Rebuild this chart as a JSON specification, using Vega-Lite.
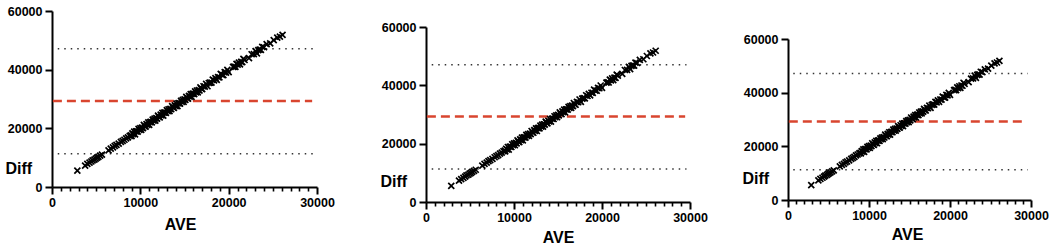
{
  "$schema": "https://vega.github.io/schema/vega-lite/v6.json",
  "autosize": {"type": "pad"},
  "padding": {"left": 5, "top": 5, "right": 0, "bottom": 0},
  "background": "white",
  "config": {
    "view": {"stroke": null},
    "axis": {
      "domainColor": "#000", "domainWidth": 2, "tickColor": "#000", "tickWidth": 2,
      "labelFont": "Liberation Sans", "labelFontWeight": "bold", "labelFontSize": 12.5, "labelColor": "#000",
      "titleFont": "Liberation Sans", "titleFontWeight": "bold", "titleFontSize": 16, "titleColor": "#000",
      "grid": false, "labelFlush": false, "labelOverlap": false
    }
  },
  "datasets": {
    "loa": [{"AVE": 650, "AVE2": 29600, "Diff": 47100}, {"AVE": 650, "AVE2": 29600, "Diff": 11300}],
    "mean": [{"AVE": 100, "AVE2": 29450, "Diff": 29300}],
    "pts": [
      {"AVE": 2870, "Diff": 5550},
      {"AVE": 3750, "Diff": 7300}, {"AVE": 4000, "Diff": 7850}, {"AVE": 4250, "Diff": 8300}, {"AVE": 4450, "Diff": 8700},
      {"AVE": 4600, "Diff": 9100}, {"AVE": 4800, "Diff": 9350}, {"AVE": 4950, "Diff": 9700}, {"AVE": 5100, "Diff": 10000},
      {"AVE": 5250, "Diff": 10300}, {"AVE": 5450, "Diff": 10700}, {"AVE": 5650, "Diff": 11050},
      {"AVE": 6400, "Diff": 12500}, {"AVE": 6650, "Diff": 13100}, {"AVE": 6900, "Diff": 13500}, {"AVE": 7100, "Diff": 14000},
      {"AVE": 7300, "Diff": 14350}, {"AVE": 7550, "Diff": 14800}, {"AVE": 7800, "Diff": 15350}, {"AVE": 8000, "Diff": 15700},
      {"AVE": 8200, "Diff": 16100}, {"AVE": 8400, "Diff": 16600}, {"AVE": 8600, "Diff": 16950}, {"AVE": 8800, "Diff": 17400},
      {"AVE": 8950, "Diff": 17600},
      {"AVE": 9000, "Diff": 17350}, {"AVE": 9100, "Diff": 18250}, {"AVE": 9200, "Diff": 18000}, {"AVE": 9300, "Diff": 18850},
      {"AVE": 9400, "Diff": 17950}, {"AVE": 9500, "Diff": 18950}, {"AVE": 9600, "Diff": 19000}, {"AVE": 9700, "Diff": 18850},
      {"AVE": 9800, "Diff": 19800}, {"AVE": 9900, "Diff": 19450}, {"AVE": 10000, "Diff": 20100}, {"AVE": 10100, "Diff": 19450},
      {"AVE": 10200, "Diff": 20250}, {"AVE": 10300, "Diff": 20100}, {"AVE": 10400, "Diff": 21150}, {"AVE": 10500, "Diff": 20700},
      {"AVE": 10600, "Diff": 20550}, {"AVE": 10700, "Diff": 21450}, {"AVE": 10800, "Diff": 21200}, {"AVE": 10900, "Diff": 22050},
      {"AVE": 11000, "Diff": 21150}, {"AVE": 11100, "Diff": 22150}, {"AVE": 11200, "Diff": 22200}, {"AVE": 11300, "Diff": 22050},
      {"AVE": 11400, "Diff": 23000}, {"AVE": 11500, "Diff": 22650}, {"AVE": 11600, "Diff": 23300}, {"AVE": 11700, "Diff": 22650},
      {"AVE": 11800, "Diff": 23450}, {"AVE": 11900, "Diff": 23300}, {"AVE": 12000, "Diff": 24350}, {"AVE": 12100, "Diff": 23900},
      {"AVE": 12200, "Diff": 23750}, {"AVE": 12300, "Diff": 24650}, {"AVE": 12400, "Diff": 24400}, {"AVE": 12500, "Diff": 25250},
      {"AVE": 12600, "Diff": 24350}, {"AVE": 12700, "Diff": 25350}, {"AVE": 12800, "Diff": 25400}, {"AVE": 12900, "Diff": 25250},
      {"AVE": 13000, "Diff": 26200}, {"AVE": 13100, "Diff": 25850}, {"AVE": 13200, "Diff": 26500}, {"AVE": 13300, "Diff": 25850},
      {"AVE": 13400, "Diff": 26650}, {"AVE": 13500, "Diff": 26500}, {"AVE": 13600, "Diff": 27550}, {"AVE": 13700, "Diff": 27100},
      {"AVE": 13800, "Diff": 26950}, {"AVE": 13900, "Diff": 27850}, {"AVE": 14000, "Diff": 27600}, {"AVE": 14100, "Diff": 28450},
      {"AVE": 14200, "Diff": 27550}, {"AVE": 14300, "Diff": 28550}, {"AVE": 14400, "Diff": 28600}, {"AVE": 14500, "Diff": 28450},
      {"AVE": 14600, "Diff": 29400}, {"AVE": 14700, "Diff": 29050}, {"AVE": 14800, "Diff": 29700}, {"AVE": 14900, "Diff": 29050},
      {"AVE": 15000, "Diff": 29850}, {"AVE": 15100, "Diff": 29700}, {"AVE": 15200, "Diff": 30750}, {"AVE": 15300, "Diff": 30300},
      {"AVE": 15400, "Diff": 30150}, {"AVE": 15500, "Diff": 31050}, {"AVE": 15600, "Diff": 30800}, {"AVE": 15700, "Diff": 31650},
      {"AVE": 15800, "Diff": 30750}, {"AVE": 15900, "Diff": 31750}, {"AVE": 16000, "Diff": 31800}, {"AVE": 16100, "Diff": 31650},
      {"AVE": 16200, "Diff": 32600}, {"AVE": 16300, "Diff": 32250}, {"AVE": 16400, "Diff": 32900}, {"AVE": 16500, "Diff": 32250},
      {"AVE": 16600, "Diff": 33050}, {"AVE": 16700, "Diff": 32900}, {"AVE": 16800, "Diff": 33950}, {"AVE": 16900, "Diff": 33500},
      {"AVE": 17000, "Diff": 33350},
      {"AVE": 17150, "Diff": 34350}, {"AVE": 17300, "Diff": 34200}, {"AVE": 17450, "Diff": 35150}, {"AVE": 17600, "Diff": 34350},
      {"AVE": 17750, "Diff": 35450}, {"AVE": 17900, "Diff": 35600}, {"AVE": 18050, "Diff": 35550}, {"AVE": 18200, "Diff": 36600},
      {"AVE": 18350, "Diff": 36350}, {"AVE": 18500, "Diff": 37100}, {"AVE": 18650, "Diff": 36550}, {"AVE": 18800, "Diff": 37450},
      {"AVE": 18950, "Diff": 37400}, {"AVE": 19100, "Diff": 38550}, {"AVE": 19250, "Diff": 38200}, {"AVE": 19400, "Diff": 38150},
      {"AVE": 19550, "Diff": 39150}, {"AVE": 19700, "Diff": 39000}, {"AVE": 19850, "Diff": 39950}, {"AVE": 20000, "Diff": 39150},
      {"AVE": 20500, "Diff": 40950}, {"AVE": 20630, "Diff": 41060}, {"AVE": 20760, "Diff": 40970}, {"AVE": 20890, "Diff": 41980},
      {"AVE": 21020, "Diff": 41690}, {"AVE": 21150, "Diff": 42400}, {"AVE": 21280, "Diff": 41810}, {"AVE": 21410, "Diff": 42670},
      {"AVE": 21540, "Diff": 42580}, {"AVE": 21670, "Diff": 43690}, {"AVE": 21800, "Diff": 43300},
      {"AVE": 22300, "Diff": 43950}, {"AVE": 22600, "Diff": 45250}, {"AVE": 22850, "Diff": 45300}, {"AVE": 23050, "Diff": 46350},
      {"AVE": 23200, "Diff": 45550}, {"AVE": 23350, "Diff": 46650}, {"AVE": 23500, "Diff": 46800}, {"AVE": 23650, "Diff": 46750},
      {"AVE": 23800, "Diff": 47800}, {"AVE": 24000, "Diff": 47650}, {"AVE": 24300, "Diff": 48700},
      {"AVE": 24700, "Diff": 48950}, {"AVE": 25100, "Diff": 50050}, {"AVE": 25500, "Diff": 50950}, {"AVE": 25800, "Diff": 51250},
      {"AVE": 26100, "Diff": 51850}
    ]
  },
  "hconcat": [
    {
      "width": 374, "height": 176,
      "layer": [
        {"data": {"name": "loa"}, "mark": {"type": "rule", "stroke": "#333", "strokeWidth": 1.5, "strokeDash": [1.5, 5]},
         "encoding": {
           "x": {"field": "AVE", "type": "quantitative", "scale": {"domain": [0, 30000], "range": [0, 265]},
                 "axis": {"orient": "bottom", "values": [0, 10000, 20000, 30000], "format": "d", "tickSize": 7, "labelPadding": 2, "labelOverlap": false, "title": "AVE", "titleX": 128, "titleY": 37, "titleAlign": "center", "titleBaseline": "middle"}},
           "x2": {"field": "AVE2"},
           "y": {"field": "Diff", "type": "quantitative", "scale": {"domain": [0, 60000], "range": [176, 0]},
                 "axis": {"values": [0, 20000, 40000, 60000], "format": "d", "labelOverlap": false, "tickSize": 7, "labelPadding": 3, "title": "Diff", "titleAngle": 0, "titleX": -47, "titleY": 157, "titleAlign": "left", "titleBaseline": "middle"}}
         }},
        {"data": {"name": "mean"}, "mark": {"type": "rule", "stroke": "#d9452f", "strokeWidth": 2.5, "strokeDash": [9, 5]},
         "encoding": {
           "x": {"field": "AVE", "type": "quantitative", "axis": null},
           "x2": {"field": "AVE2"},
           "y": {"field": "Diff", "type": "quantitative"}
         }},
        {"data": {"name": "pts"}, "mark": {"type": "point", "shape": "M-1,-1L1,1M-1,1L1,-1", "filled": false, "stroke": "#000", "strokeWidth": 1.7, "size": 36, "opacity": 1},
         "encoding": {
           "x": {"field": "AVE", "type": "quantitative",
                 "axis": {"orient": "bottom", "values": [1000,2000,3000,4000,5000,6000,7000,8000,9000,11000,12000,13000,14000,15000,16000,17000,18000,19000,21000,22000,23000,24000,25000,26000,27000,28000,29000], "tickSize": 4, "tickWidth": 1.6, "tickColor": "#000", "ticks": true, "labels": false, "domain": false, "title": null}},
           "y": {"field": "Diff", "type": "quantitative"}
         }}
      ],
      "resolve": {"axis": {"x": "independent"}}
    },
    {
      "width": 362, "height": 191,
      "layer": [
        {"data": {"name": "loa"}, "mark": {"type": "rule", "stroke": "#333", "strokeWidth": 1.5, "strokeDash": [1.5, 5]},
         "encoding": {
           "x": {"field": "AVE", "type": "quantitative", "scale": {"domain": [0, 30000], "range": [0, 264]},
                 "axis": {"orient": "bottom", "values": [0, 10000, 20000, 30000], "format": "d", "tickSize": 7, "labelPadding": 2, "labelOverlap": false, "title": "AVE", "titleX": 132, "titleY": 35, "titleAlign": "center", "titleBaseline": "middle"}},
           "x2": {"field": "AVE2"},
           "y": {"field": "Diff", "type": "quantitative", "scale": {"domain": [0, 60000], "range": [191, 16]},
                 "axis": {"values": [0, 20000, 40000, 60000], "format": "d", "labelOverlap": false, "tickSize": 7, "labelPadding": 3, "title": "Diff", "titleAngle": 0, "titleX": -46, "titleY": 170, "titleAlign": "left", "titleBaseline": "middle"}}
         }},
        {"data": {"name": "mean"}, "mark": {"type": "rule", "stroke": "#d9452f", "strokeWidth": 2.5, "strokeDash": [9, 5]},
         "encoding": {
           "x": {"field": "AVE", "type": "quantitative", "axis": null},
           "x2": {"field": "AVE2"},
           "y": {"field": "Diff", "type": "quantitative"}
         }},
        {"data": {"name": "pts"}, "mark": {"type": "point", "shape": "M-1,-1L1,1M-1,1L1,-1", "filled": false, "stroke": "#000", "strokeWidth": 1.7, "size": 36, "opacity": 1},
         "encoding": {
           "x": {"field": "AVE", "type": "quantitative",
                 "axis": {"orient": "bottom", "values": [1000,2000,3000,4000,5000,6000,7000,8000,9000,11000,12000,13000,14000,15000,16000,17000,18000,19000,21000,22000,23000,24000,25000,26000,27000,28000,29000], "tickSize": 4, "tickWidth": 1.6, "tickColor": "#000", "ticks": true, "labels": false, "domain": false, "title": null}},
           "y": {"field": "Diff", "type": "quantitative"}
         }}
      ],
      "resolve": {"axis": {"x": "independent"}}
    },
    {
      "width": 243, "height": 189,
      "layer": [
        {"data": {"name": "loa"}, "mark": {"type": "rule", "stroke": "#333", "strokeWidth": 1.5, "strokeDash": [1.5, 5]},
         "encoding": {
           "x": {"field": "AVE", "type": "quantitative", "scale": {"domain": [0, 30000], "range": [0, 243]},
                 "axis": {"orient": "bottom", "values": [0, 10000, 20000, 30000], "format": "d", "tickSize": 7, "labelPadding": 2, "labelOverlap": false, "title": "AVE", "titleX": 119, "titleY": 34, "titleAlign": "center", "titleBaseline": "middle"}},
           "x2": {"field": "AVE2"},
           "y": {"field": "Diff", "type": "quantitative", "scale": {"domain": [0, 60000], "range": [189, 28]},
                 "axis": {"values": [0, 20000, 40000, 60000], "format": "d", "labelOverlap": false, "tickSize": 7, "labelPadding": 3, "title": "Diff", "titleAngle": 0, "titleX": -46, "titleY": 167, "titleAlign": "left", "titleBaseline": "middle"}}
         }},
        {"data": {"name": "mean"}, "mark": {"type": "rule", "stroke": "#d9452f", "strokeWidth": 2.5, "strokeDash": [9, 5]},
         "encoding": {
           "x": {"field": "AVE", "type": "quantitative", "axis": null},
           "x2": {"field": "AVE2"},
           "y": {"field": "Diff", "type": "quantitative"}
         }},
        {"data": {"name": "pts"}, "mark": {"type": "point", "shape": "M-1,-1L1,1M-1,1L1,-1", "filled": false, "stroke": "#000", "strokeWidth": 1.7, "size": 36, "opacity": 1},
         "encoding": {
           "x": {"field": "AVE", "type": "quantitative",
                 "axis": {"orient": "bottom", "values": [1000,2000,3000,4000,5000,6000,7000,8000,9000,11000,12000,13000,14000,15000,16000,17000,18000,19000,21000,22000,23000,24000,25000,26000,27000,28000,29000], "tickSize": 4, "tickWidth": 1.6, "tickColor": "#000", "ticks": true, "labels": false, "domain": false, "title": null}},
           "y": {"field": "Diff", "type": "quantitative"}
         }}
      ],
      "resolve": {"axis": {"x": "independent"}}
    }
  ],
  "spacing": 0,
  "bounds": "flush"
}
